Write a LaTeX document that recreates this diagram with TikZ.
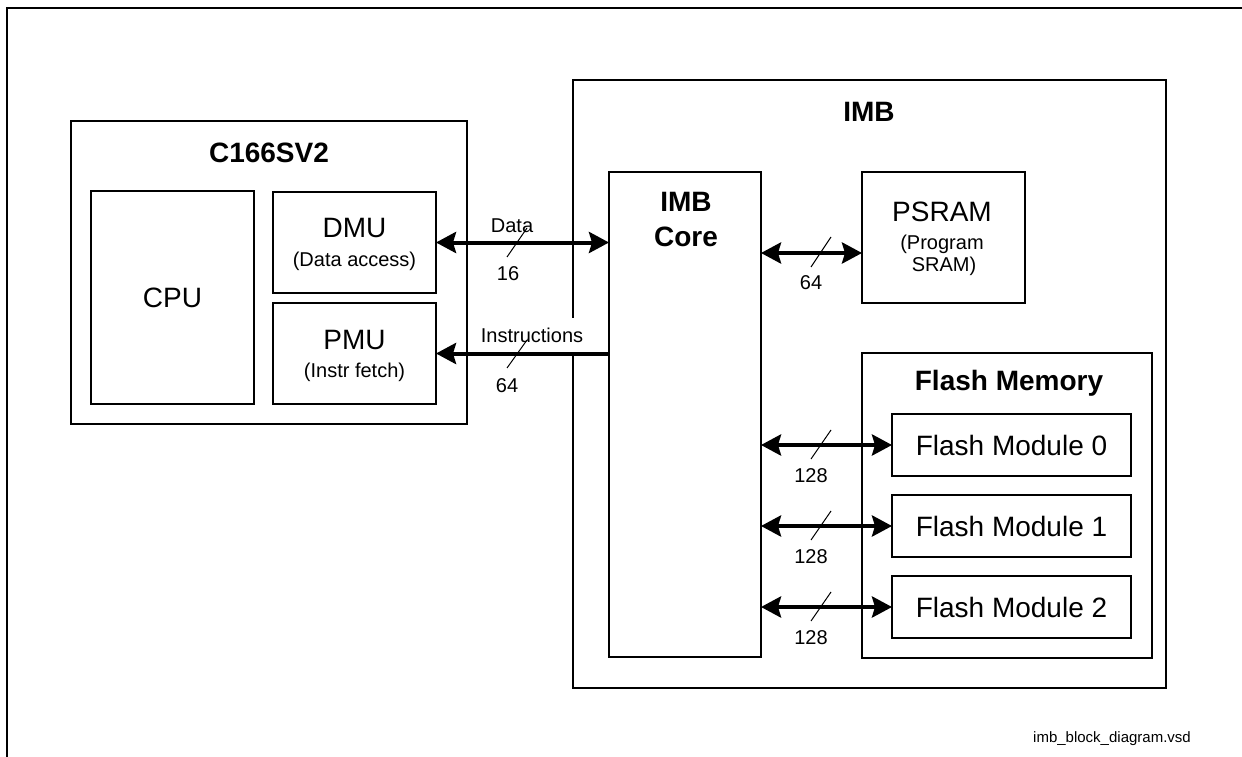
\documentclass[tikz,border=0pt]{standalone}
\usepackage{fontspec}
\setmainfont{Liberation Sans}
\usetikzlibrary{arrows.meta}
\begin{document}
\begin{tikzpicture}[x=1pt,y=-1pt,
  box/.style={draw, line width=1.8pt, inner sep=0pt, outer sep=0pt},
  big/.style={font=\fontsize{28}{32}\selectfont, inner sep=0pt},
  bigb/.style={font=\bfseries\fontsize{28}{32}\selectfont, inner sep=0pt},
  small/.style={font=\fontsize{20}{23}\selectfont, inner sep=0pt},
  tip/.tip={Stealth[length=20pt,width=21pt,inset=3pt]},
  bus/.style={line width=4pt, tip-tip},
  busr/.style={line width=4pt, -tip},
  slash/.style={line width=1pt},
  frame/.style={line width=1.2pt}]
\useasboundingbox (0,0) rectangle (1242,757);
% outer frame
\draw[frame] (7,757) -- (7,8) -- (1242,8);

% C166SV2
\node[box, minimum width=396pt, minimum height=303pt] (c166) at (269,272.5) {};
\node[bigb] (c166t) at (269,153) {C166SV2};
\node[box, minimum width=163pt, minimum height=213pt] (cpu) at (172.5,297.5) {};
\node[big] (cput) at (cpu) {CPU};
\node[box, minimum width=163pt, minimum height=101pt] (dmu) at (354.5,242.5) {};
\node[big] (dmut) at (354.5,228) {DMU};
\node[small] (dmus) at (354.5,261) {(Data access)};
\node[box, minimum width=163pt, minimum height=101pt] (pmu) at (354.5,353.5) {};
\node[big] (pmut) at (354.5,340) {PMU};
\node[small] (pmus) at (354.5,372) {(Instr fetch)};

% IMB
\node[box, minimum width=593pt, minimum height=608pt] (imb) at (869.5,384) {};
\node[bigb] (imbt) at (869,112) {IMB};
\node[box, minimum width=152pt, minimum height=485pt] (core) at (685,414.5) {};
\node[bigb] (coret1) at (686,202) {IMB};
\node[bigb] (coret2) at (686,237) {Core};
\node[box, minimum width=163pt, minimum height=131pt] (psram) at (943.5,237.5) {};
\node[big] (psramt) at (942,212) {PSRAM};
\node[small] (psrams1) at (942,244) {(Program};
\node[small] (psrams2) at (944,266) {SRAM)};
\node[box, minimum width=290pt, minimum height=305pt] (flash) at (1007,505.5) {};
\node[bigb] (flasht) at (1009,383) {Flash Memory};
\node[box, minimum width=239pt, minimum height=62pt] (fm0) at (1011.5,445) {};
\node[big] (fm0t) at (fm0) {Flash Module 0};
\node[box, minimum width=239pt, minimum height=62pt] (fm1) at (1011.5,526) {};
\node[big] (fm1t) at (fm1) {Flash Module 1};
\node[box, minimum width=239pt, minimum height=62pt] (fm2) at (1011.5,607) {};
\node[big] (fm2t) at (fm2) {Flash Module 2};

% Data bus
\draw[bus] (dmu.east) -- (core.west|-dmu.east);
\node[small] (datal) at (512,226) {Data};
\node[small] (datan) at (508,274) {16};
\draw[slash] (507,257) -- (527,228);

% Instructions bus
\node[small, fill=white, minimum height=35pt, inner xsep=2pt] (instl) at (532,335) {Instructions};
\coordinate (ci) at (core.west|-pmu.east);
\draw[busr] (ci) -- (pmu.east);
\node[small] (instn) at (507,386) {64};
\draw[slash] (507,368) -- (527,340);

% PSRAM bus
\coordinate (cp) at (core.east|-psram.west);
\draw[bus] ([yshift=-15.5pt]cp) -- ([yshift=-15.5pt]psram.west);
\node[small] (psn) at (811,283) {64};
\draw[slash] (811,267) -- (831,237);

% Flash buses
\foreach \m/\y in {fm0/445,fm1/526,fm2/607}{
  \draw[bus] (core.east|-\m.west) -- (\m.west);
  \draw[slash] (811,\y+14) -- (831,\y-15);
  \node[small] at (811,\y+31) {128};
}

% file name
\node[font=\fontsize{15}{18}\selectfont, inner sep=0pt] (fname) at (1112,739) {imb\_block\_diagram.vsd};
\end{tikzpicture}
\end{document}
